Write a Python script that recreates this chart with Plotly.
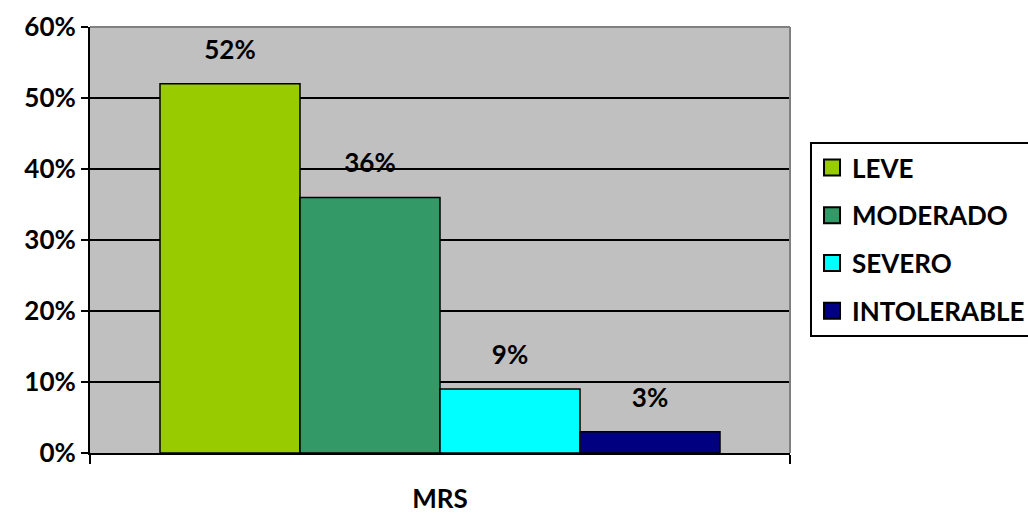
import plotly.graph_objects as go

category = ["MRS"]
series_names = ["LEVE", "MODERADO", "SEVERO", "INTOLERABLE"]
series_values = [0.52, 0.36, 0.09, 0.03]
colors = ["#99CC00", "#339966", "#00FFFF", "#000080"]
y_ticks = [0, 0.1, 0.2, 0.3, 0.4, 0.5, 0.6]
y_tick_labels = ["0%", "10%", "20%", "30%", "40%", "50%", "60%"]

FONT = "Lato"
FS = 26

fig = go.Figure()
for name, val, col in zip(series_names, series_values, colors):
    fig.add_trace(go.Bar(
        x=category, y=[val], name=name, legendgroup=name, showlegend=False,
        marker=dict(color=col, line=dict(color="black", width=1.5)),
    ))
# value labels, grouped the same way as the bars
for name, val in zip(series_names, series_values):
    fig.add_trace(go.Scatter(
        x=category, y=[val], mode="markers+text", showlegend=False,
        offsetgroup=name, alignmentgroup="labels",
        text=[f"{round(val*100)}%"], textposition="top center",
        marker=dict(size=28, opacity=0),
        textfont=dict(family=FONT, size=FS, color="black", weight="bold"),
        cliponaxis=False, hoverinfo="skip",
    ))
# legend entries (square swatches)
for name, col in zip(series_names, colors):
    fig.add_trace(go.Scatter(
        x=[None], y=[None], mode="markers", name=name, legendgroup=name,
        offsetgroup=name, alignmentgroup="labels",
        marker=dict(symbol="square", size=16, color=col, line=dict(color="black", width=2)),
    ))

fig.update_layout(
    width=1028, height=514,
    margin=dict(l=90, r=238, t=27, b=61, autoexpand=False),
    paper_bgcolor="white", plot_bgcolor="#C0C0C0",
    barmode="group", bargap=0.2, bargroupgap=0,
    scattermode="group", scattergap=0.2,
    font=dict(family=FONT, size=FS, color="black"),
    legend=dict(
        x=1.0286, y=0.73, xanchor="left", yanchor="top",
        bordercolor="black", borderwidth=2, bgcolor="white",
        font=dict(family=FONT, size=FS, color="black", weight="bold"),
        traceorder="grouped", tracegroupgap=11, itemsizing="trace",
        itemwidth=30,
    ),
    showlegend=True,
)
fig.update_yaxes(
    range=[0, 0.6], tickvals=y_ticks, ticktext=y_tick_labels,
    showgrid=True, gridcolor="black", gridwidth=2,
    showline=True, linecolor="black", linewidth=2,
    ticks="outside", ticklen=7, tickwidth=2, tickcolor="black",
    tickfont=dict(family=FONT, size=FS, color="black", weight="bold"),
    zeroline=False, automargin=False,
)
fig.update_xaxes(
    showline=True, linecolor="black", linewidth=2,
    ticks="outside", tickson="boundaries", ticklen=9, tickwidth=2, tickcolor="black",
    showticklabels=False, automargin=False,
    title=dict(text="MRS", standoff=41, font=dict(family=FONT, size=FS, color="black", weight="bold")),
)
# plot frame (top and right edges)
fig.add_shape(type="line", xref="paper", yref="paper", x0=0, x1=1, y0=1, y1=1,
              line=dict(color="#808080", width=2), layer="above")
fig.add_shape(type="line", xref="paper", yref="paper", x0=1, x1=1, y0=0, y1=1,
              line=dict(color="#808080", width=2), layer="above")

fig.write_html("out.html")
